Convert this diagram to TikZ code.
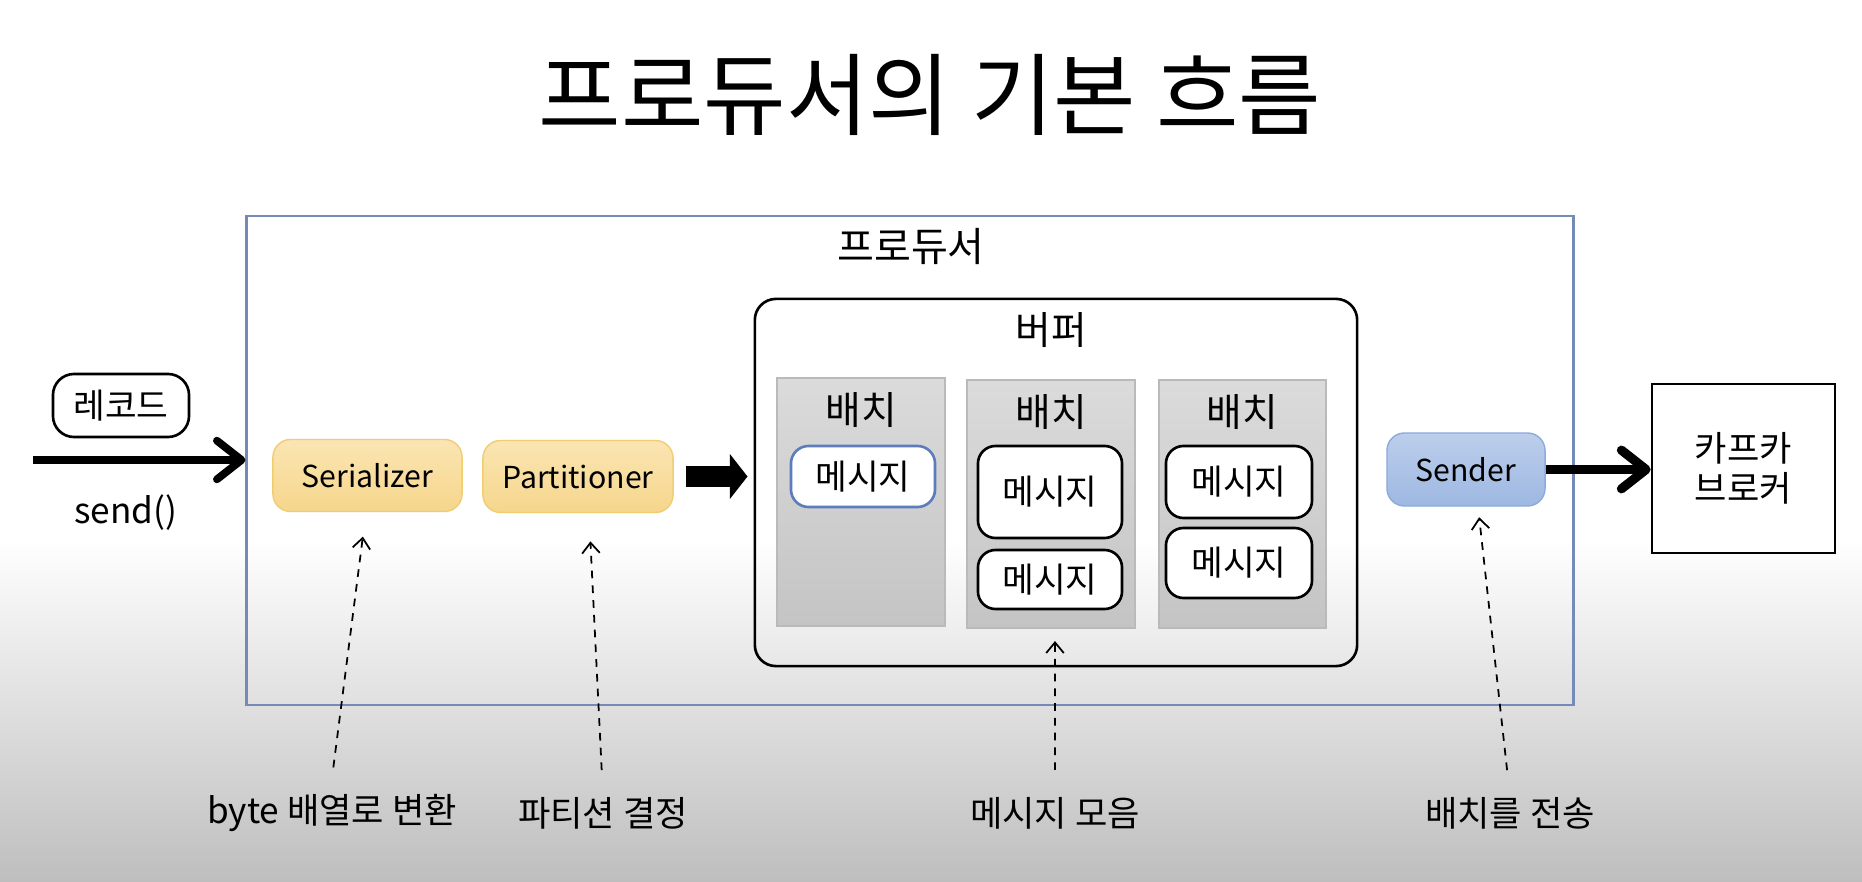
\documentclass[tikz,border=0pt]{standalone}
\usepackage{fontspec}
\setmainfont{Noto Sans CJK KR}
\usetikzlibrary{arrows.meta,positioning}
\definecolor{FrameBlue}{RGB}{118,138,184}
\definecolor{MsgBlue}{RGB}{92,124,190}
\definecolor{BatchTop}{RGB}{219,219,219}
\definecolor{BatchBot}{RGB}{196,196,196}
\definecolor{BatchLine}{RGB}{186,186,186}
\definecolor{SoftYellow}{RGB}{250,229,178}
\definecolor{DeepYellow}{RGB}{246,214,140}
\definecolor{YellowLine}{RGB}{240,206,112}
\definecolor{SoftBlue}{RGB}{188,206,235}
\definecolor{DeepBlue}{RGB}{158,184,226}
\definecolor{BlueLine}{RGB}{140,170,220}
\definecolor{BgGray}{RGB}{190,190,190}
\tikzset{
  titletext/.style={font=\fontsize{25.5}{30}\selectfont},
  frame/.style={draw=FrameBlue,line width=0.7pt,inner sep=0pt},
  bufferbox/.style={draw=black,line width=0.75pt,rounded corners=6pt,inner sep=0pt},
  batch/.style={draw=BatchLine,top color=BatchTop,bottom color=BatchBot,
    minimum width=1.68cm,minimum height=2.48cm,inner sep=0pt},
  msg/.style={draw=black,line width=0.75pt,fill=white,rounded corners=5pt,
    minimum width=1.44cm,font=\fontsize{9.8}{11}\selectfont,inner sep=0pt},
  stage/.style={draw=YellowLine,top color=SoftYellow,bottom color=DeepYellow,
    rounded corners=5pt,minimum height=0.72cm,font=\fontsize{8.6}{10}\selectfont},
  senderbox/.style={draw=BlueLine,top color=SoftBlue,bottom color=DeepBlue,
    rounded corners=5pt,minimum width=1.58cm,minimum height=0.73cm,
    font=\fontsize{8.6}{10}\selectfont},
  heading/.style={font=\fontsize{11}{12}\selectfont},
  hand/.style={font=\fontsize{10}{12}\selectfont,inner sep=0pt},
  bigarrow/.style={line width=2.2pt,-{Straight Barb[length=7pt,width=11pt,round]}},
  blockarrow/.style={line width=6.2pt,-{Triangle[length=5pt,width=12.5pt]}},
  hint/.style={line width=0.5pt,dash pattern=on 2.2pt off 2pt,
    -{Straight Barb[length=3pt,width=5pt]}}
}

\begin{document}
\begin{tikzpicture}[x=0.01cm,y=-0.01cm]
  % background
  \fill[white] (0,0) rectangle (1862,882);
  \shade[top color=white,bottom color=BgGray] (0,540) rectangle (1862,882);
  \useasboundingbox (0,0) rectangle (1862,882);

  \node[titletext] (title) at (930,95) {프로듀서의 기본 흐름};

  % producer
  \node[frame,minimum width=13.26cm,minimum height=4.89cm] (producer) at (910,460.5) {};
  \node[heading,font=\fontsize{11.4}{13}\selectfont] (prodlbl) at (911,247) {프로듀서};

  % buffer with batches
  \node[bufferbox,minimum width=6.02cm,minimum height=3.67cm] (buffer) at (1056,482.5) {};
  \node[heading] (buflbl) at (1051,330) {버퍼};
  \node[batch] (b1) at (861,502) {};
  \node[batch] (b2) at (1051,504) {};
  \node[batch,minimum width=1.67cm] (b3) at (1242.5,504) {};
  \node[heading,below=0.03cm of b1.north] (b1lbl) {배치};
  \node[heading,below=0.03cm of b2.north] (b2lbl) {배치};
  \node[heading,below=0.03cm of b3.north] (b3lbl) {배치};
  \node[msg,draw=MsgBlue,minimum height=0.61cm] (m11) at (863,476.5) {메시지};
  \node[msg,minimum height=0.92cm] (m21) at (1050,492) {메시지};
  \node[msg,minimum height=0.59cm] (m22) at (1050,579.5) {메시지};
  \node[msg,minimum width=1.46cm,minimum height=0.72cm] (m31) at (1239,482) {메시지};
  \node[msg,minimum width=1.46cm,minimum height=0.70cm] (m32) at (1239,563) {메시지};

  % stages
  \node[stage,minimum width=1.89cm] (serializer) at (367.5,475.5) {Serializer};
  \node[stage,minimum width=1.90cm] (partitioner) at (578,476.5) {Partitioner};
  \node[senderbox] (sender) at (1466,469.5) {Sender};

  % outside
  \node[msg,minimum width=1.36cm,minimum height=0.63cm,rounded corners=6pt] (record) at (121,405.5) {레코드};
  \coordinate (sendstart) at (33,460);
  \node[hand] (sendlbl) at (126,513) {send()};
  \node[draw=black,line width=0.75pt,fill=white,minimum width=1.83cm,minimum height=1.69cm,
    align=center,font=\fontsize{10}{11.5}\selectfont] (broker) at (1743.5,468.5) {카프카\\브로커};

  \draw[bigarrow] (sendstart) -- (sendstart -| producer.west);
  \draw[blockarrow,shorten <=3.4pt,shorten >=1.7pt] (partitioner.east) -- (buffer.west |- partitioner.east);
  \draw[bigarrow,line width=2.6pt] (sender.east) -- (broker.west |- sender.east);

  % notes
  \node[hand] (note1) at (332,813) {byte 배열로 변환};
  \node[hand] (note2) at (603,813) {파티션 결정};
  \node[hand] (note3) at (1055,813) {메시지 모음};
  \node[hand] (note4) at (1510,813) {배치를 전송};
  \draw[hint,shorten <=7.5pt,shorten >=7pt] ([xshift=-0.02cm]note1.north) -- ([xshift=-0.015cm]serializer.south);
  \draw[hint,shorten <=7.5pt,shorten >=8pt] (note2.north) -- ([xshift=0.11cm]partitioner.south);
  \draw[hint,shorten <=7.5pt,shorten >=3.5pt] (note3.north) -- ([xshift=0.04cm]b2.south);
  \draw[hint,shorten <=7.5pt,shorten >=3pt] (note4.north) -- ([xshift=0.12cm]sender.south);
\end{tikzpicture}
\end{document}
